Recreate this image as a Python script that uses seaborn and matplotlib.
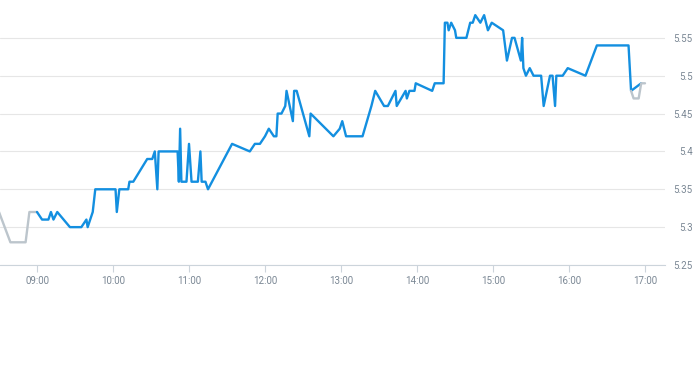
import matplotlib
matplotlib.use("Agg")
import matplotlib.pyplot as plt
import seaborn as sns
from matplotlib.ticker import FixedLocator, FuncFormatter

# ---- data ----
pre_times = ["08:30", "08:39", "08:51", "08:54", "09:00"]
pre_vals = [5.32, 5.28, 5.28, 5.32, 5.32]

main_times = ["09:00", "09:04", "09:09", "09:11", "09:13", "09:16", "09:26", "09:35", "09:39", "09:40",
              "09:44", "09:46", "10:02", "10:03", "10:05", "10:12", "10:13", "10:16", "10:27", "10:31",
              "10:33", "10:35", "10:36", "10:51", "10:52", "10:53", "10:54", "10:58", "11:00", "11:02",
              "11:07", "11:09", "11:10", "11:13", "11:15", "11:34", "11:48", "11:52", "11:56", "12:00",
              "12:03", "12:07", "12:09", "12:10", "12:13", "12:16", "12:17", "12:22", "12:23", "12:25",
              "12:35", "12:36", "12:54", "12:59", "13:01", "13:04", "13:17", "13:24", "13:27", "13:34",
              "13:37", "13:43", "13:44", "13:51", "13:52", "13:54", "13:58", "13:59", "14:12", "14:14",
              "14:21", "14:22", "14:24", "14:25", "14:27", "14:30", "14:31", "14:39", "14:42", "14:44",
              "14:46", "14:50", "14:53", "14:56", "14:59", "15:08", "15:11", "15:15", "15:17", "15:22",
              "15:23", "15:24", "15:26", "15:29", "15:32", "15:38", "15:40", "15:45", "15:47", "15:49",
              "15:50", "15:55", "15:59", "16:13", "16:22", "16:47", "16:49", "16:57"]
main_vals = [5.32, 5.31, 5.31, 5.32, 5.31, 5.32, 5.30, 5.30, 5.31, 5.30,
             5.32, 5.35, 5.35, 5.32, 5.35, 5.35, 5.36, 5.36, 5.39, 5.39,
             5.40, 5.35, 5.40, 5.40, 5.36, 5.43, 5.36, 5.36, 5.41, 5.36,
             5.36, 5.40, 5.36, 5.36, 5.35, 5.41, 5.40, 5.41, 5.41, 5.42,
             5.43, 5.42, 5.42, 5.45, 5.45, 5.46, 5.48, 5.44, 5.48, 5.48,
             5.42, 5.45, 5.42, 5.43, 5.44, 5.42, 5.42, 5.46, 5.48, 5.46,
             5.46, 5.48, 5.46, 5.48, 5.47, 5.48, 5.48, 5.49, 5.48, 5.49,
             5.49, 5.57, 5.57, 5.56, 5.57, 5.56, 5.55, 5.55, 5.57, 5.57,
             5.58, 5.57, 5.58, 5.56, 5.57, 5.56, 5.52, 5.55, 5.55, 5.52,
             5.55, 5.51, 5.50, 5.51, 5.50, 5.50, 5.46, 5.50, 5.50, 5.46,
             5.50, 5.50, 5.51, 5.50, 5.54, 5.54, 5.48, 5.49]

post_times = ["16:49", "16:51", "16:55", "16:57", "17:00"]
post_vals = [5.48, 5.47, 5.47, 5.49, 5.49]

x_tick_hours = [9, 10, 11, 12, 13, 14, 15, 16, 17]
y_ticks = [5.25, 5.30, 5.35, 5.40, 5.45, 5.50, 5.55]

BLUE = "#138fe0"
GRAY = "#bcc5cc"
TEXT = "#7a8794"


def to_min(s):
    h, m = s.split(":")
    return int(h) * 60 + float(m)


sns.set_theme(style="white")
plt.rcParams['font.family'] = ['Roboto', 'DejaVu Sans']

fig = plt.figure(figsize=(6.93, 3.65), dpi=100)
ax = fig.add_axes([0, 1 - 265 / 365, 665 / 693, 265 / 365])

sns.lineplot(x=[to_min(t) for t in pre_times], y=pre_vals, color=GRAY, lw=1.7,
             estimator=None, sort=False, ax=ax)
sns.lineplot(x=[to_min(t) for t in main_times], y=main_vals, color=BLUE, lw=1.7,
             estimator=None, sort=False, ax=ax)
sns.lineplot(x=[to_min(t) for t in post_times], y=post_vals, color=GRAY, lw=1.7,
             estimator=None, sort=False, ax=ax)

x_left = 9 * 60 - 37 / 76 * 60
ax.set_xlim(x_left, x_left + 665 / 76 * 60)
ax.set_ylim(5.25, 5.6)

ax.xaxis.set_major_locator(FixedLocator([h * 60 for h in x_tick_hours]))
ax.xaxis.set_major_formatter(FuncFormatter(lambda v, p: f"{int(round(v) // 60):02d}:00"))
ax.yaxis.set_major_locator(FixedLocator(y_ticks))
ax.yaxis.set_major_formatter(FuncFormatter(lambda v, p: f"{v:g}"))

ax.yaxis.tick_right()
ax.tick_params(axis="y", length=0, pad=20, labelsize=7, labelcolor=TEXT)
for lab in ax.get_yticklabels():
    lab.set_horizontalalignment("right")
ax.tick_params(axis="x", length=5, width=0.8, color="#ccd4db", pad=3,
               labelsize=7, labelcolor=TEXT, bottom=True)

ax.grid(axis="y", color="#e6e6e6", lw=0.8)
ax.grid(axis="x", visible=False)
for side in ["top", "left", "right"]:
    ax.spines[side].set_visible(False)
ax.spines["bottom"].set_color("#ccd4db")
ax.spines["bottom"].set_linewidth(0.8)
ax.set_xlabel("")
ax.set_ylabel("")
ax.set_facecolor("white")

fig.savefig("out.png", dpi=100, facecolor="white")
